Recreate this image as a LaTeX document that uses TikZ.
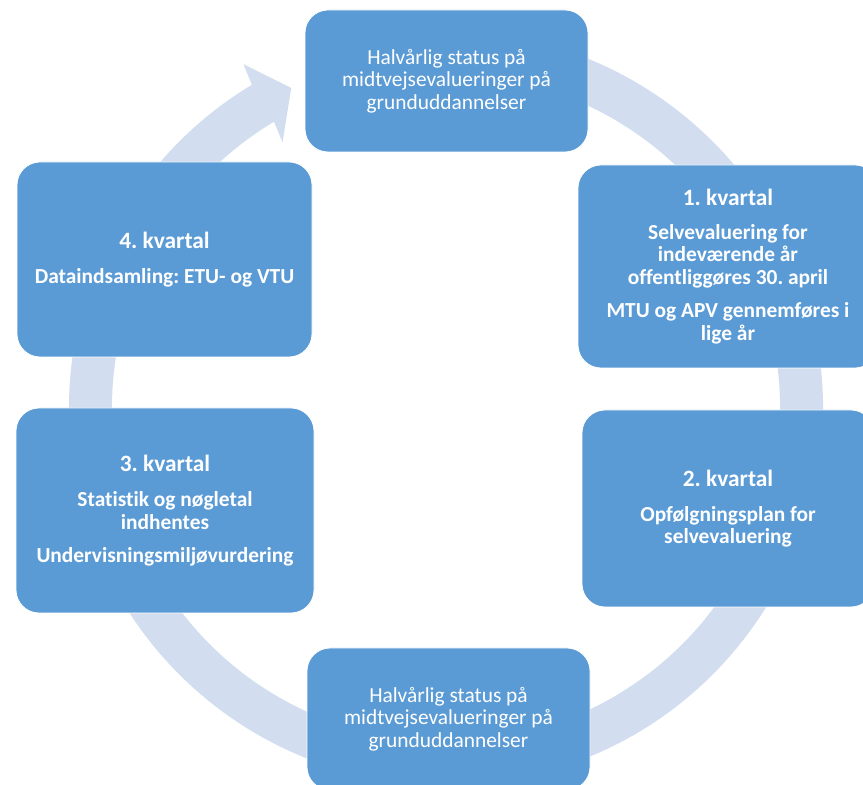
\documentclass[tikz,border=0pt]{standalone}
\usepackage{fontspec}
\setmainfont[Ligatures={NoCommon}]{Carlito}
\usepackage{tikz}
\usetikzlibrary{positioning, calc}
\frenchspacing

\definecolor{boxblue}{RGB}{91,155,213}
\definecolor{ringblue}{RGB}{210,222,239}

\tikzset{
    kbox/.style={draw=white, line width=0.8pt, fill=boxblue, rounded corners=23pt,
        text=white, align=center, inner sep=0pt,
        font=\fontsize{21.4}{22.5}\selectfont},
    kbold/.style={kbox, font=\fontsize{21.4}{22.5}\selectfont\bfseries},
}
\newcommand{\khead}[1]{{\fontsize{23.4}{22.5}\selectfont #1}}

\begin{document}
\begin{tikzpicture}[x=1pt, y=1pt]
    \useasboundingbox (0,0) rectangle (863,785);
    \clip (0,0) rectangle (863,785);

    % Circular arrow (behind the boxes)
    \begin{scope}[shift={(446,377)}]
        \fill[ringblue] (100:377pt) arc[start angle=100, end angle=-239, radius=377pt]
            -- (120.5:399pt) -- (115.8:355.5pt) -- (121.6:312pt)
            -- (-239:334pt) arc[start angle=-239, end angle=100, radius=334pt] -- cycle;
    \end{scope}

    % Half-yearly status
    \node[kbox, minimum width=283pt, minimum height=142pt] (halvaarA) at (446.5,704)
        {Halvårlig status på\\midtvejsevalueringer på\\grunduddannelser};
    \node[kbox, minimum width=283pt, minimum height=142pt] (halvaarB) at (448.5,66)
        {Halvårlig status på\\midtvejsevalueringer på\\grunduddannelser};

    % Quarters
    \node[kbold, minimum width=300pt, minimum height=203pt] (kvartal1) at (728,518.5)
        {\khead{1. kvartal}\\[11.5pt]Selvevaluering for\\indeværende år\\offentliggøres 30. april\\[11pt]MTU og APV gennemføres i\\lige år};
    \node[kbold, minimum width=292pt, minimum height=197pt] (kvartal2) at (728,276.5)
        {\khead{2. kvartal}\\[12.5pt]Opfølgningsplan for\\selvevaluering};
    \node[kbold, minimum width=298pt, minimum height=205pt] (kvartal3) at (165,274.5)
        {\khead{3. kvartal}\\[12.5pt]Statistik og nøgletal\\indhentes\\[10.5pt]Undervisningsmiljøvurdering};
    \node[kbold, minimum width=295pt, minimum height=195pt] (kvartal4) at (164.5,525.5)
        {\khead{4. kvartal}\\[12.5pt]Dataindsamling: ETU- og VTU};
\end{tikzpicture}
\end{document}
